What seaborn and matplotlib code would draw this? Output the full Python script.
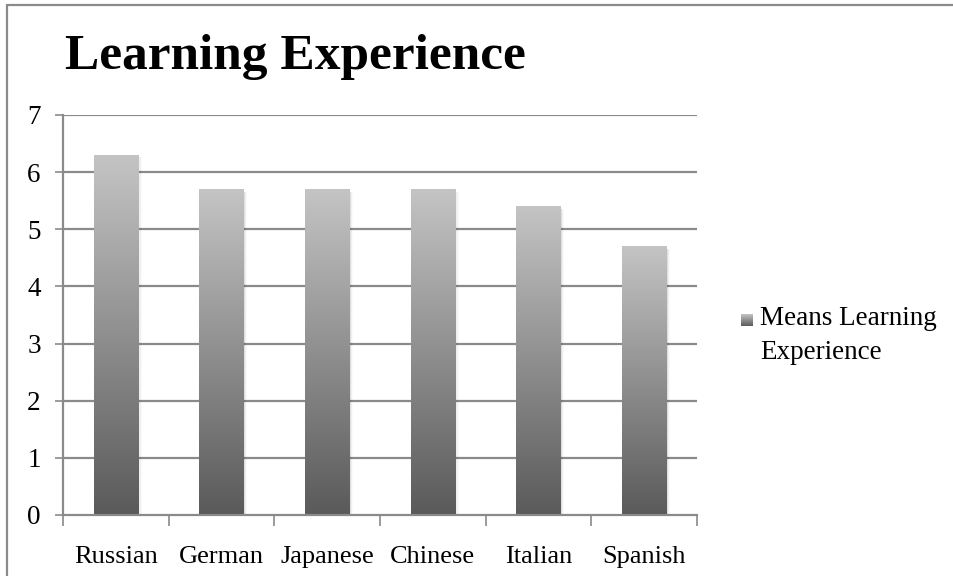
import numpy as np
import pandas as pd
import matplotlib
matplotlib.use("Agg")
import matplotlib.pyplot as plt
import seaborn as sns
from matplotlib.colors import LinearSegmentedColormap
from matplotlib.lines import Line2D
from matplotlib.patches import Rectangle

languages = ["Russian", "German", "Japanese", "Chinese", "Italian", "Spanish"]
means = [6.3, 5.7, 5.7, 5.7, 5.4, 4.7]
series_name = "Means Learning\nExperience"
title = "Learning Experience"
y_ticks = [0, 1, 2, 3, 4, 5, 6, 7]

df = pd.DataFrame({"Language": languages, "Mean": means})

sns.set_theme(style="white")
plt.rcParams["font.family"] = ["Liberation Serif", "DejaVu Serif"]

W, H, DPI = 954, 576, 100
fig = plt.figure(figsize=(W / DPI, H / DPI), dpi=DPI)
ax = fig.add_axes([63 / W, 1 - 515 / H, (697 - 63) / W, (515 - 115) / H])

sns.barplot(data=df, x="Language", y="Mean", ax=ax, width=0.42,
            color="#909090", edgecolor="none", zorder=3)

# vertical grey gradient inside each bar, dark at the base, light at the top
grad_cmap = LinearSegmentedColormap.from_list("bar_grad", ["#5a5a5a", "#c4c4c4"])
gradient = np.linspace(0, 1, 256).reshape(-1, 1)
for patch in list(ax.patches):
    x0, y0 = patch.get_x(), patch.get_y()
    w, h = patch.get_width(), patch.get_height()
    # soft shadow along the right edge
    for k, a in enumerate([0.07, 0.04, 0.02]):
        ax.add_patch(Rectangle((x0 + w, y0), 0.012 * (k + 1), h - 0.04,
                               color="#000000", alpha=a, lw=0, zorder=2))
    im = ax.imshow(gradient, cmap=grad_cmap, aspect="auto", origin="lower",
                   extent=[x0, x0 + w, y0, y0 + h], zorder=4, vmin=0, vmax=1)
    im.set_clip_path(patch)

ax.set_xlim(-0.5, len(languages) - 0.5)
ax.set_ylim(0, 7)
ax.set_yticks(y_ticks)
ax.set_xlabel("")
ax.set_ylabel("")

# horizontal gridlines
for t in y_ticks[1:]:
    ax.axhline(t, color="#8a8a8a", lw=1.6, zorder=1)

for s in ["top", "right"]:
    ax.spines[s].set_visible(False)
for s in ["left", "bottom"]:
    ax.spines[s].set_color("#8a8a8a")
    ax.spines[s].set_linewidth(1.6)
    ax.spines[s].set_zorder(5)

# ticks: y to the left, x between categories
ax.tick_params(axis="y", which="major", left=True, length=6, width=1.2,
               color="#8a8a8a", labelsize=19.5, pad=10)
ax.set_xticks(np.arange(len(languages)))
ax.set_xticklabels(languages, fontsize=19)
ax.set_xticks(np.arange(-0.5, len(languages)), minor=True)
ax.tick_params(axis="x", which="major", bottom=False, pad=16)
ax.tick_params(axis="x", which="minor", bottom=True, length=8, width=1.2,
               color="#8a8a8a")
for lab in ax.get_xticklabels() + ax.get_yticklabels():
    lab.set_color("#000000")

fig.text(65 / W, 1 - 57 / H, title, fontsize=37, fontweight="bold",
         va="center", ha="left", color="#000000")

# legend: gradient swatch with label
lax = fig.add_axes([741 / W, 1 - 326 / H, 12 / W, 12 / H])
lax.imshow(gradient, cmap=grad_cmap, aspect="auto", origin="lower",
           extent=[0, 1, 0, 1])
lax.set_axis_off()
fig.text(760 / W, 1 - 306 / H, series_name, fontsize=19.5, va="top",
         ha="left", color="#000000", linespacing=1.45)

# frame lines at the top and left of the chart area
fig.add_artist(Line2D([7 / W, 1], [1 - 5 / H, 1 - 5 / H], color="#8a8a8a",
                      lw=1.6, transform=fig.transFigure))
fig.add_artist(Line2D([7 / W, 7 / W], [0, 1 - 5 / H], color="#8a8a8a",
                      lw=1.6, transform=fig.transFigure))

fig.savefig("out.png", dpi=DPI)
